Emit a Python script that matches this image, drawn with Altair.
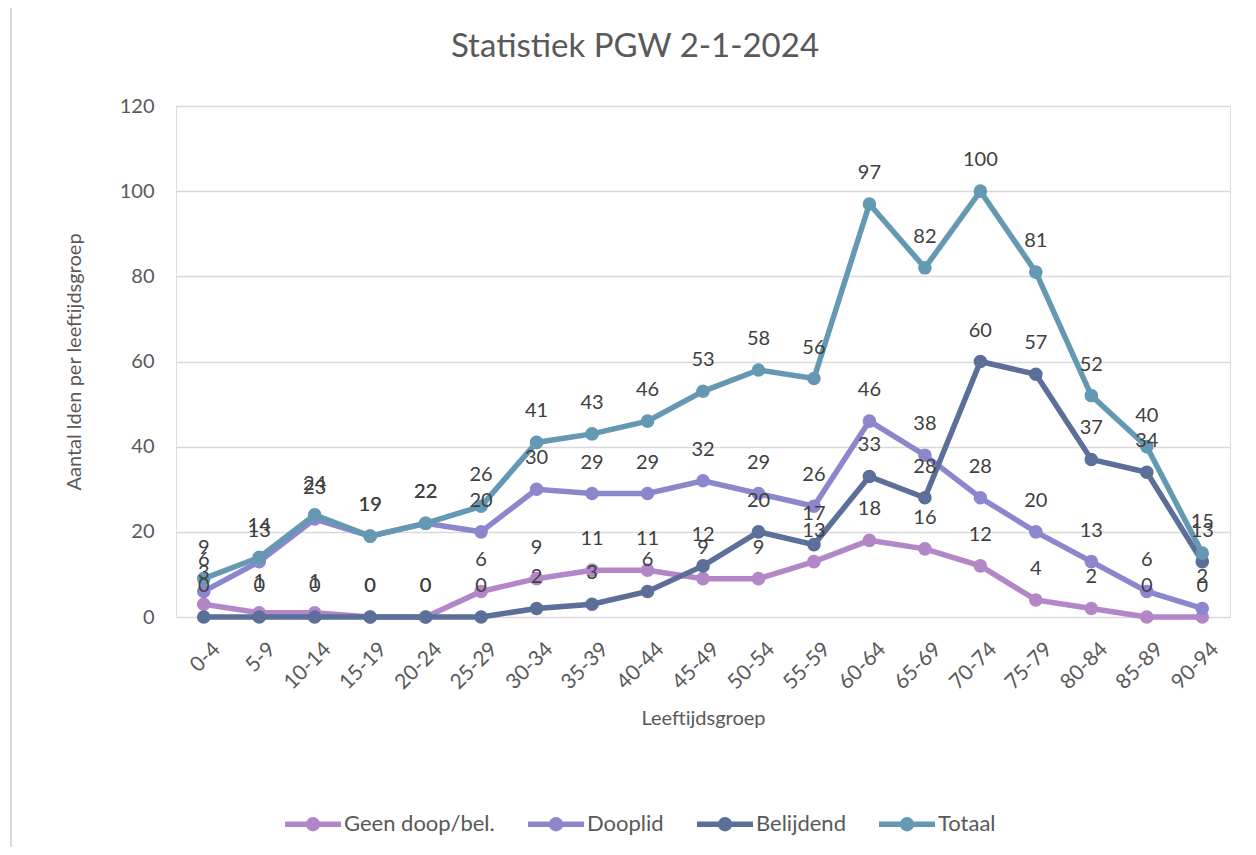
import altair as alt
import pandas as pd

categories = ["0-4", "5-9", "10-14", "15-19", "20-24", "25-29", "30-34", "35-39",
              "40-44", "45-49", "50-54", "55-59", "60-64", "65-69", "70-74",
              "75-79", "80-84", "85-89", "90-94"]
series_names = ["Geen doop/bel.", "Dooplid", "Belijdend", "Totaal"]
geen = [3, 1, 1, 0, 0, 6, 9, 11, 11, 9, 9, 13, 18, 16, 12, 4, 2, 0, 0]
dooplid = [6, 13, 23, 19, 22, 20, 30, 29, 29, 32, 29, 26, 46, 38, 28, 20, 13, 6, 2]
belijdend = [0, 0, 0, 0, 0, 0, 2, 3, 6, 12, 20, 17, 33, 28, 60, 57, 37, 34, 13]
totaal = [9, 14, 24, 19, 22, 26, 41, 43, 46, 53, 58, 56, 97, 82, 100, 81, 52, 40, 15]
colors = ["#b386c8", "#8c87cd", "#5b6f98", "#6599b3"]
y_ticks = [0, 20, 40, 60, 80, 100, 120]

rows = []
for name, vals in zip(series_names, [geen, dooplid, belijdend, totaal]):
    for i, (c, v) in enumerate(zip(categories, vals)):
        rows.append({"groep": c, "serie": name, "waarde": v, "idx": i})
df = pd.DataFrame(rows)

FONT = "Lato"
W, H = 1054, 511

x_enc = alt.X("groep:N", sort=categories,
              scale=alt.Scale(type="point", padding=0.5),
              axis=alt.Axis(title="Leeftijdsgroep", labelAngle=-45, labelAlign="right",
                            labelBaseline="top", labelPadding=21, labelOffset=5,
                            labelFontSize=21,
                            labelColor="#595959", labelFont=FONT, ticks=False,
                            domain=False, grid=False, titleFontSize=20, titleFont=FONT,
                            titleColor="#595959", titleFontWeight="normal",
                            titleY=101, titleBaseline="middle"))
y_enc = alt.Y("waarde:Q", scale=alt.Scale(domain=[0, 120], nice=False),
              axis=alt.Axis(values=y_ticks, title="Aantal lden per leeftijdsgroep",
                            labelFontSize=20, labelColor="#595959", labelFont=FONT,
                            labelPadding=22, ticks=False, domain=False,
                            gridColor="#d9d9d9", gridWidth=1.5,
                            titleFontSize=20, titleFont=FONT, titleColor="#595959",
                            titleFontWeight="normal", titleX=-102, titleY=H / 2,
                            titleAngle=-90, titleAlign="center", titleBaseline="middle"))

color_scale = alt.Scale(domain=series_names, range=colors)
legend = alt.Legend(title=None, orient="none", direction="horizontal",
                    legendX=106, legendY=687, labelFontSize=22, labelFont=FONT,
                    labelColor="#595959", labelOffset=0, columnPadding=22,
                    symbolType="M-1,0 H1 M0.16,0 A0.16,0.16 0 1 1 -0.16,0 A0.16,0.16 0 1 1 0.16,0 M0.06,0 A0.06,0.06 0 1 1 -0.06,0 A0.06,0.06 0 1 1 0.06,0",
                    symbolSize=3136, symbolStrokeWidth=5.5, symbolFillColor="transparent")

layers = []
for name in series_names:
    base = alt.Chart(df).transform_filter(alt.datum.serie == name)
    line = base.mark_line(strokeWidth=5.5).encode(
        x=x_enc, y=y_enc,
        color=alt.Color("serie:N", scale=color_scale, legend=legend))
    pts = base.mark_point(filled=True, size=185, opacity=1).encode(
        x=x_enc, y=y_enc,
        color=alt.Color("serie:N", scale=color_scale, legend=legend))
    layers += [line, pts]

labels = alt.Chart(df).mark_text(fontSize=20, font=FONT, color="#404040", dy=-31,
                                 baseline="middle", align="center").encode(
    x=x_enc, y=y_enc, text="waarde:Q")

border_top = alt.Chart(df).mark_rule(color="#d9d9d9", strokeWidth=1.5).encode(
    x=alt.value(-165), x2=alt.value(1080), y=alt.value(-100))
border_left = alt.Chart(df).mark_rule(color="#d9d9d9", strokeWidth=1.5).encode(
    x=alt.value(-165), y=alt.value(-100), y2=alt.value(760))

chart = alt.layer(*layers, labels, border_top, border_left).properties(
    width=W, height=H,
    title=alt.TitleParams("Statistiek PGW 2-1-2024", fontSize=33, font=FONT,
                          color="#595959", fontWeight="normal", anchor="middle",
                          frame="group", dx=-68, offset=0, dy=59),
    autosize=alt.AutoSizeParams(type="none"),
    padding={"left": 168, "top": 98, "right": 18, "bottom": 230},
).configure_view(strokeWidth=0, stroke="transparent").configure(
    background="white"
).configure_axisX(labelPadding=21, labelAngle=-45, labelAlign="right",
                  labelBaseline="top")

chart.save("out.html", embed_options={"renderer": "svg", "actions": False})
